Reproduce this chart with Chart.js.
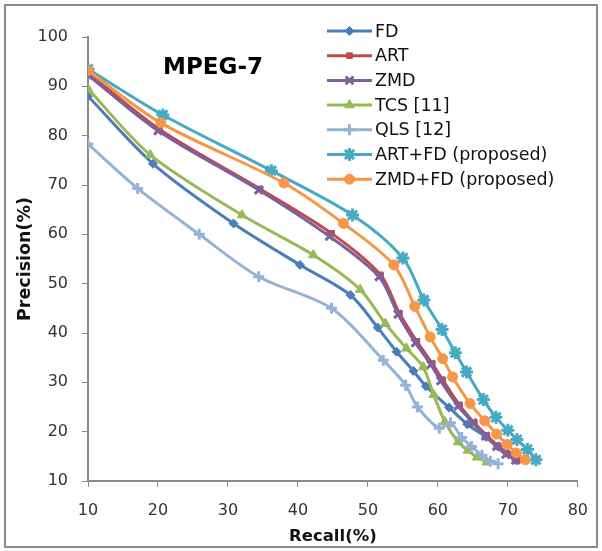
<!DOCTYPE html>
<html>
<head>
<meta charset="utf-8">
<script src="https://cdn.jsdelivr.net/npm/chart.js@4.4.1/dist/chart.umd.min.js"></script>
<style>
  html, body { margin: 0; padding: 0; background: #fff; }
  canvas { display: block; }
</style>
</head>
<body>
<canvas id="prCanvas" width="602" height="551"></canvas>
<script>
// Recall / precision values
const seriesNames = ["FD", "ART", "ZMD", "TCS [11]", "QLS [12]", "ART+FD (proposed)", "ZMD+FD (proposed)"];

const fdRecall     = [10, 19.3, 30.8, 40.3, 47.5, 51.4, 54.1, 56.5, 58.3, 61.6, 64.2, 66.9, 68.6, 70.0, 71.2];
const fdPrecision  = [88.0, 74.3, 62.2, 53.8, 47.7, 41.1, 36.2, 32.3, 29.2, 24.9, 21.5, 18.9, 17.0, 15.6, 14.2];

const artRecall    = [10, 20.2, 34.6, 44.8, 51.8, 54.5, 57.0, 59.2, 60.7, 63.1, 65.2, 67.0, 68.6, 69.9, 71.4];
const artPrecision = [92.8, 81.3, 69.2, 60.2, 51.8, 44.0, 38.3, 33.8, 30.5, 25.4, 21.8, 19.2, 17.1, 15.5, 14.2];

const zmdRecall    = [10, 20.0, 34.4, 44.5, 51.6, 54.3, 56.8, 59.0, 60.4, 62.9, 65.0, 66.8, 68.4, 69.7, 71.1];
const zmdPrecision = [92.3, 81.0, 69.0, 59.6, 51.4, 43.8, 38.0, 33.6, 30.3, 25.2, 21.8, 19.1, 17.0, 15.4, 14.2];

const tcsRecall    = [10, 18.9, 32.0, 42.2, 48.9, 52.5, 55.5, 57.9, 59.4, 61.0, 62.9, 64.3, 65.6, 67.0];
const tcsPrecision = [89.5, 76.1, 63.9, 55.8, 48.8, 41.9, 36.9, 33.1, 27.5, 22.0, 17.9, 16.2, 14.8, 13.8];

const qlsRecall    = [10, 17.1, 25.9, 34.4, 44.8, 52.2, 55.4, 57.1, 60.2, 61.8, 63.4, 64.8, 66.3, 67.5, 68.6];
const qlsPrecision = [78.3, 69.3, 60.0, 51.4, 45.0, 34.5, 29.4, 25.0, 20.7, 21.8, 18.8, 17.0, 15.2, 14.0, 13.5];

const artFdRecall    = [10, 20.7, 36.2, 47.8, 55.0, 58.0, 60.6, 62.5, 64.1, 66.5, 68.3, 70.0, 71.3, 72.8, 74.0];
const artFdPrecision = [93.5, 84.2, 72.9, 63.9, 55.2, 46.7, 40.7, 36.0, 32.1, 26.5, 22.9, 20.3, 18.4, 16.4, 14.3];

const zmdFdRecall    = [10, 20.4, 38.0, 46.5, 53.7, 56.7, 58.9, 60.7, 62.1, 64.6, 66.7, 68.4, 69.9, 71.2, 72.5];
const zmdFdPrecision = [93.2, 82.6, 70.4, 62.2, 53.8, 45.4, 39.2, 34.8, 31.1, 25.7, 22.2, 19.5, 17.4, 15.7, 14.3];

const xTicks = [10, 20, 30, 40, 50, 60, 70, 80];
const yTicks = [10, 20, 30, 40, 50, 60, 70, 80, 90, 100];

const recallSets = [fdRecall, artRecall, zmdRecall, tcsRecall, qlsRecall, artFdRecall, zmdFdRecall];
const precisionSets = [fdPrecision, artPrecision, zmdPrecision, tcsPrecision, qlsPrecision, artFdPrecision, zmdFdPrecision];

const colors = ['#4A7EBB', '#BE4B48', '#7D60A0', '#98B954', '#95B3D7', '#46AAC5', '#F79646'];
const markers = ['rectRot', 'rect', 'crossRot', 'triangle', 'cross', 'star', 'circle'];
const markerSize = [4.5, 4, 5.5, 5.5, 5.5, 6.5, 5];

function pairUp(xs, ys) {
    return xs.map((x, i) => ({ x: x, y: ys[i] }));
}

const datasets = seriesNames.map((name, i) => ({
    label: name,
    data: pairUp(recallSets[i], precisionSets[i]),
    borderColor: colors[i],
    backgroundColor: colors[i],
    borderWidth: 3,
    pointStyle: markers[i],
    pointRadius: markerSize[i],
    pointBorderWidth: (markers[i] === 'cross' || markers[i] === 'crossRot' || markers[i] === 'star') ? 3 : 1,
    tension: 0.3,
    fill: false,
    order: seriesNames.length - i  // later series drawn on top, like Excel
}));

// white background + grey frame round the whole chart
const framePlugin = {
    id: 'frame',
    beforeDraw(chart) {
        const ctx = chart.ctx;
        ctx.save();
        ctx.fillStyle = '#fff';
        ctx.fillRect(0, 0, chart.width, chart.height);
        ctx.strokeStyle = '#8a8a8a';
        ctx.lineWidth = 2;
        ctx.strokeRect(5, 5, chart.width - 10, chart.height - 9);
        ctx.restore();
    }
};

// title inside the plot and the legend box at top right
const overlayPlugin = {
    id: 'overlay',
    afterDraw(chart) {
        const ctx = chart.ctx;
        ctx.save();
        ctx.fillStyle = '#000';
        ctx.font = 'bold 23px "DejaVu Sans"';
        ctx.textAlign = 'center';
        ctx.textBaseline = 'middle';
        ctx.fillText('MPEG-7', 213, 68);

        ctx.font = '17.5px "DejaVu Sans"';
        ctx.textAlign = 'left';
        chart.data.datasets.forEach((ds, i) => {
            const y = 31 + i * 24.7;
            ctx.strokeStyle = ds.borderColor;
            ctx.lineWidth = 3;
            ctx.beginPath();
            ctx.moveTo(327, y);
            ctx.lineTo(372, y);
            ctx.stroke();
            ctx.fillStyle = ds.backgroundColor;
            ctx.lineWidth = ds.pointBorderWidth;
            Chart.helpers.drawPoint(ctx, {
                pointStyle: ds.pointStyle,
                radius: ds.pointRadius,
                rotation: 0,
                borderWidth: ds.pointBorderWidth
            }, 349.5, y);
            ctx.fillStyle = '#111';
            ctx.fillText(ds.label, 375, y + 1);
        });
        ctx.restore();
    }
};

const ctx = document.getElementById('prCanvas');
const prChart = new Chart(ctx, {
    type: 'line',
    data: { datasets: datasets },
    options: {
        responsive: false,
        animation: false,
        layout: { padding: { top: 37, right: 20, left: 0, bottom: 0 } },
        scales: {
            x: {
                type: 'linear',
                min: 10,
                max: 80,
                afterFit(scale) { scale.height = 70; },
                afterBuildTicks(scale) { scale.ticks = xTicks.map(v => ({ value: v })); },
                grid: { drawOnChartArea: false, drawTicks: true, tickLength: 6, color: '#8a8a8a' },
                border: { display: true, color: '#8a8a8a', width: 2 },
                ticks: { color: '#333', padding: 14, font: { family: 'DejaVu Sans', size: 16 } },
                title: {
                    display: true,
                    text: 'Recall(%)',
                    color: '#111',
                    padding: { top: 4, bottom: 4 },
                    font: { family: 'DejaVu Sans', size: 16.5, weight: 'bold' }
                }
            },
            y: {
                min: 10,
                max: 100,
                afterFit(scale) { scale.width = 88; },
                afterBuildTicks(scale) { scale.ticks = yTicks.map(v => ({ value: v })); },
                grid: { drawOnChartArea: false, drawTicks: true, tickLength: 6, color: '#8a8a8a' },
                border: { display: true, color: '#8a8a8a', width: 2 },
                ticks: { color: '#333', padding: 14, font: { family: 'DejaVu Sans', size: 16 } },
                title: {
                    display: true,
                    text: 'Precision(%)',
                    color: '#111',
                    padding: { top: 15, bottom: 15 },
                    font: { family: 'DejaVu Sans', size: 17.5, weight: 'bold' }
                }
            }
        },
        plugins: {
            legend: { display: false },
            tooltip: { enabled: false }
        }
    },
    plugins: [framePlugin, overlayPlugin]
});
</script>
</body>
</html>
